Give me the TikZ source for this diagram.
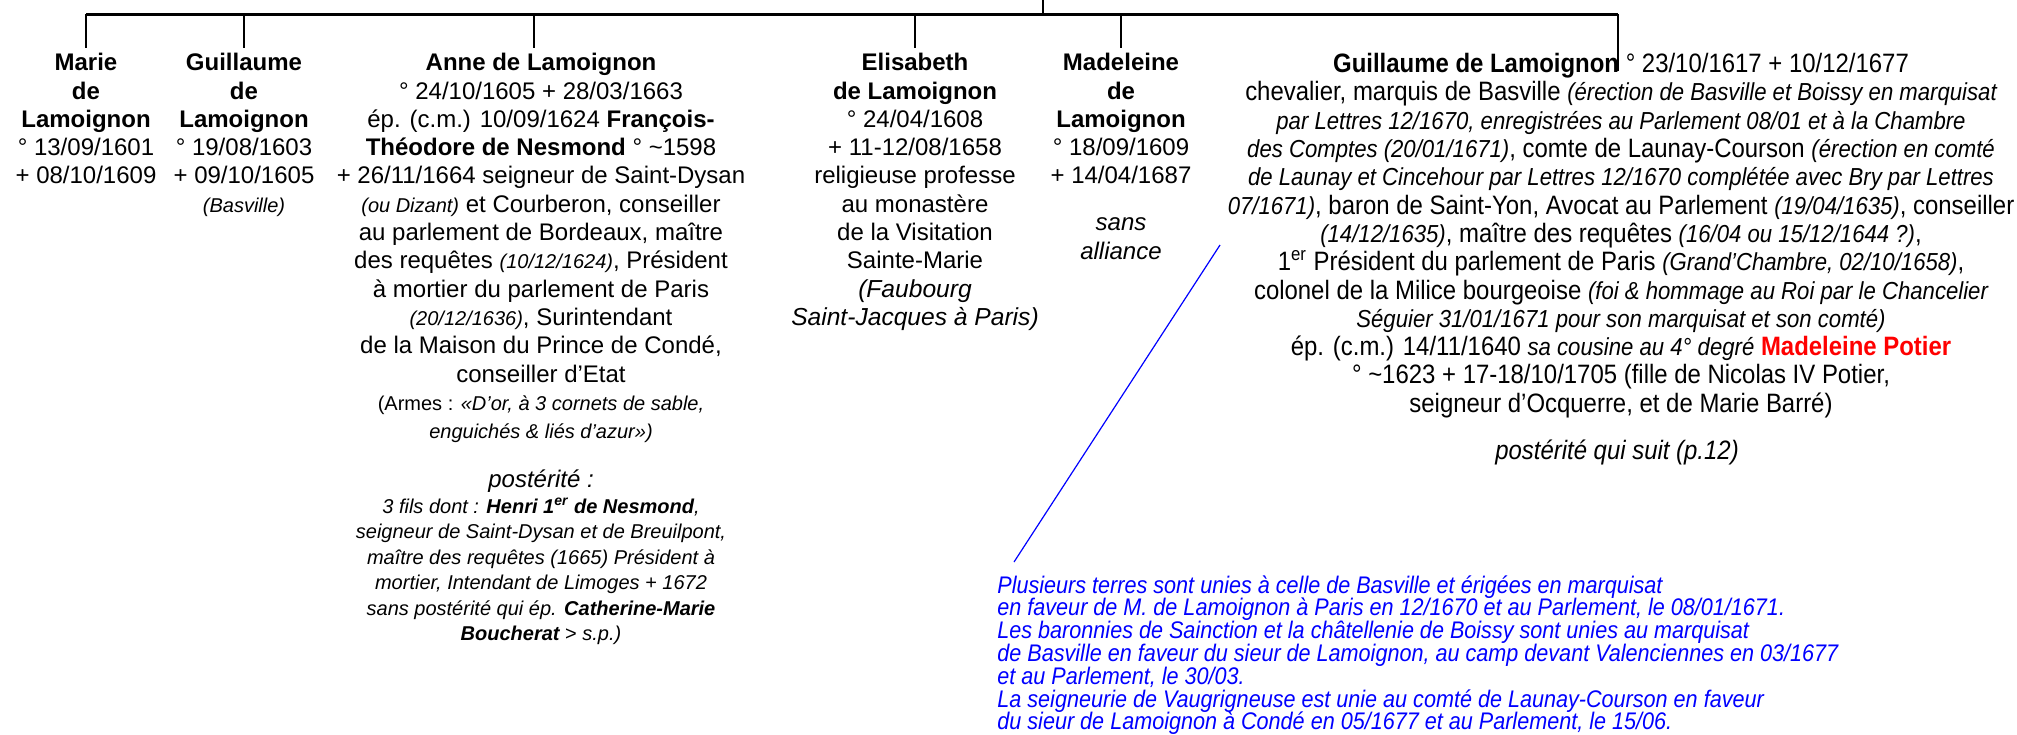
\documentclass[tikz,border=0pt]{standalone}
\usepackage{fontspec}
\setmainfont{Liberation Sans}
\newfontfamily\narrowfont[FakeStretch=0.9]{Liberation Sans}
\newcommand\smit[1]{{\fontsize{10}{14.15}\selectfont\itshape #1}}
\newcommand\nit[1]{{\fontsize{12.3}{14.15}\selectfont\itshape #1}}
\begin{document}
\begin{tikzpicture}[x=0.5pt,y=-0.5pt,
  col/.style={anchor=north, align=center, inner sep=0pt, font=\fontsize{12}{14.15}\selectfont},
  narrowcol/.style={anchor=north, align=center, inner sep=0pt, font=\narrowfont\fontsize{13.3}{14.15}\selectfont},
  postblock/.style={anchor=north, align=center, inner sep=0pt, font=\fontsize{10}{12.75}\selectfont\itshape},
  note/.style={anchor=north west, align=left, inner sep=0pt, text=blue, font=\narrowfont\itshape\fontsize{12}{11.4}\selectfont},
  bus/.style={line width=1.5pt},
  drop/.style={line width=1pt},
  notelink/.style={blue, line width=0.6pt}]
\useasboundingbox (0,0) rectangle (2017,734);

% connector coordinates
\coordinate (top) at (1043,0);
\coordinate (busL) at (86,14);
\coordinate (busR) at (1618,14);
\coordinate (cMarie) at (86,48);
\coordinate (cGuil) at (244,48);
\coordinate (cAnne) at (534,48);
\coordinate (cElis) at (915,48);
\coordinate (cMade) at (1121,48);
\coordinate (cGdl) at (1618,71);

% people
\node[col] (marie) at (86,53) {\textbf{Marie}\\\textbf{de}\\\textbf{Lamoignon}\\° 13/09/1601\\+ 08/10/1609};
\node[col] (guil) at (244,53) {\textbf{Guillaume}\\\textbf{de}\\\textbf{Lamoignon}\\° 19/08/1603\\+ 09/10/1605\\\smit{(Basville)}};
\node[col] (anne) at (541,53) {\textbf{Anne de Lamoignon}\\
° 24/10/1605 + 28/03/1663\\
ép. (c.m.) 10/09/1624 \textbf{François-}\\
\textbf{Théodore de Nesmond} ° \textasciitilde1598\\
+ 26/11/1664 seigneur de Saint-Dysan\\
\smit{(ou Dizant)} et Courberon, conseiller\\
au parlement de Bordeaux, maître\\
des requêtes \smit{(10/12/1624)}, Président\\
à mortier du parlement de Paris\\
\smit{(20/12/1636)}, Surintendant\\
de la Maison du Prince de Condé,\\
conseiller d’Etat\\
{\fontsize{10}{14.15}\selectfont (Armes : \itshape «D’or, à 3 cornets de sable,}\\
\smit{enguichés \& liés d’azur»)}};
\node[col, font=\fontsize{12}{14.15}\selectfont\itshape] (annepost) at (541,469) {postérité :};
\node[postblock] (anneposterity) at (541,498) {3 fils dont : \textbf{Henri 1\textsuperscript{er} de Nesmond},\\
seigneur de Saint-Dysan et de Breuilpont,\\
maître des requêtes (1665) Président à\\
mortier, Intendant de Limoges + 1672\\
sans postérité qui ép. \textbf{Catherine-Marie}\\
\textbf{Boucherat} {\upshape >} s.p.)};
\node[col] (elis) at (915,53) {\textbf{Elisabeth}\\\textbf{de Lamoignon}\\° 24/04/1608\\+ 11-12/08/1658\\religieuse professe\\au monastère\\de la Visitation\\Sainte-Marie\\\nit{(Faubourg}\\\nit{Saint-Jacques à Paris)}};
\node[col] (made) at (1121,53) {\textbf{Madeleine}\\\textbf{de}\\\textbf{Lamoignon}\\° 18/09/1609\\+ 14/04/1687};
\node[col, font=\fontsize{12}{14.5}\selectfont\itshape] (madesans) at (1121,217) {sans\\alliance};
\node[narrowcol] (gdl) at (1621,53) {\textbf{Guillaume de Lamoignon} ° 23/10/1617 + 10/12/1677\\
chevalier, marquis de Basville \nit{(érection de Basville et Boissy en marquisat}\\
\nit{par Lettres 12/1670, enregistrées au Parlement 08/01 et à la Chambre}\\
\nit{des Comptes (20/01/1671)}, comte de Launay-Courson \nit{(érection en comté}\\
\nit{de Launay et Cincehour par Lettres 12/1670 complétée avec Bry par Lettres}\\
\nit{07/1671)}, baron de Saint-Yon, Avocat au Parlement \nit{(19/04/1635)}, conseiller\\
\nit{(14/12/1635)}, maître des requêtes \nit{(16/04 ou 15/12/1644 ?)},\\
1\textsuperscript{er} Président du parlement de Paris \nit{(Grand’Chambre, 02/10/1658)},\\
colonel de la Milice bourgeoise \nit{(foi \& hommage au Roi par le Chancelier}\\
\nit{Séguier 31/01/1671 pour son marquisat et son comté)}\\
ép. (c.m.) 14/11/1640 \nit{sa cousine au 4° degré} \textcolor{red}{\textbf{Madeleine Potier}}\\
° \textasciitilde1623 + 17-18/10/1705 (fille de Nicolas IV Potier,\\
seigneur d’Ocquerre, et de Marie Barré)};
\node[narrowcol, font=\narrowfont\fontsize{13.3}{14.15}\selectfont\itshape] (gdlpost) at (1617,440) {postérité qui suit (p.12)};

\node[note] (note) at (997,575) {Plusieurs terres sont unies à celle de Basville et érigées en marquisat\\
en faveur de M. de Lamoignon à Paris en 12/1670 et au Parlement, le 08/01/1671.\\
Les baronnies de Sainction et la châtellenie de Boissy sont unies au marquisat\\
de Basville en faveur du sieur de Lamoignon, au camp devant Valenciennes en 03/1677\\
et au Parlement, le 30/03.\\
La seigneurie de Vaugrigneuse est unie au comté de Launay-Courson en faveur\\
du sieur de Lamoignon à Condé en 05/1677 et au Parlement, le 15/06.};

% tree
\draw[bus] (busL) -- (busR);
\draw[drop] (top) -- (top |- busL);
\draw[drop] (cMarie |- busL) -- (cMarie);
\draw[drop] (cGuil |- busL) -- (cGuil);
\draw[drop] (cAnne |- busL) -- (cAnne);
\draw[drop] (cElis |- busL) -- (cElis);
\draw[drop] (cMade |- busL) -- (cMade);
\draw[drop] (busR) -- (cGdl);

% note link
\coordinate (linkTop) at (1220,245);
\coordinate (linkBot) at (1014,562);
\draw[notelink] (linkBot) -- (linkTop);
\end{tikzpicture}
\end{document}
